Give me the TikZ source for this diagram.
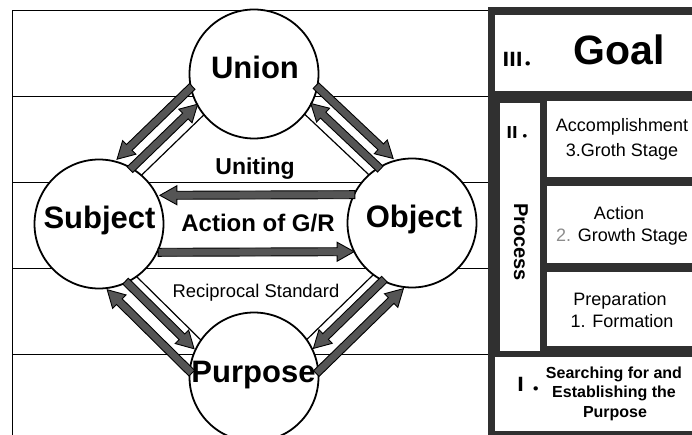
\documentclass[tikz,border=0pt]{standalone}
\usepackage{fontspec}
\setmainfont{Liberation Sans}
\newfontfamily\cjkfont[RawFeature=+fwid]{Noto Sans CJK JP}
\usetikzlibrary{calc}
\pgfdeclarelayer{back}
\pgfdeclarelayer{bg}
\pgfsetlayers{back,bg,main}
\definecolor{framedark}{HTML}{303030}
\definecolor{arrowgray}{HTML}{555555}
\definecolor{numgray}{HTML}{8C8C8C}
% offset segment parallel to A--B: #1 A, #2 B, #3 offset, #4 angle, #5 gap at A, #6 gap at B
\newcommand\offseg[6]{%
  \path ($(#1)!#3!#4:(#2)$) coordinate (pa);
  \path ($(pa)+(#2)-(#1)$) coordinate (pb);
  \path ($(pa)!#5!(pb)$) coordinate (qa) ($(pb)!#6!(pa)$) coordinate (qb);}
% fat outlined arrow from #1 to #2
\newcommand\fatarrow[2]{%
  \path ($(#2)!17pt!(#1)$) coordinate (hb);
  \filldraw[fatarr] ($(#1)!4pt!90:(#2)$) -- ($(hb)!4pt!90:(#2)$) -- ($(hb)!9.5pt!90:(#2)$) -- (#2)
    -- ($(hb)!9.5pt!-90:(#2)$) -- ($(hb)!4pt!-90:(#2)$) -- ($(#1)!4pt!-90:(#2)$) -- cycle;}
\tikzset{
  fatarr/.style={fill=arrowgray, draw=black, line width=0.9pt, line join=miter},
  thinln/.style={draw=black, line width=1.2pt},
  gridln/.style={draw=black, line width=1pt},
  circ/.style={circle, draw=black, fill=white, line width=1.8pt, minimum size=129pt, inner sep=0pt},
  bigtxt/.style={font=\fontsize{31}{31}\selectfont\bfseries, anchor=base, inner sep=0pt},
  midtxt/.style={font=\fontsize{23}{23}\selectfont\bfseries, anchor=base, inner sep=0pt},
  regtxt/.style={font=\fontsize{18}{18}\selectfont, anchor=base, inner sep=0pt},
  smbold/.style={font=\fontsize{16}{16}\selectfont\bfseries, anchor=base, inner sep=0pt},
  romtxt/.style={font=\fontsize{19}{19}\selectfont\cjkfont\bfseries, anchor=base west, inner sep=0pt},
  whitebox/.style={fill=white, draw=none}
}
\begin{document}
\begin{tikzpicture}[x=1pt,y=1pt]
\useasboundingbox (0,-435) rectangle (692,0);
\begin{pgfonlayer}{back}
  \fill[white] (0,-435) rectangle (692,0);
\end{pgfonlayer}
% circles
\node[circ] (U) at (254,-74) {};
\node[circ] (S) at (99,-224) {};
\node[circ] (O) at (412,-223) {};
\node[circ] (P) at (254,-377) {};
\begin{pgfonlayer}{bg}
  % grid of the left area
  \draw[gridln] (12,-435) -- (12,-11) -- (490,-11);
  \foreach \yy in {97,183,268,354} \draw[gridln] (12,-\yy) -- (490,-\yy);
  % thin inner lines
  \offseg{U}{S}{5.5pt}{-90}{0pt}{0pt} \draw[thinln] (qa) -- (qb);
  \offseg{U}{O}{5.5pt}{90}{0pt}{0pt} \draw[thinln] (qa) -- (qb);
  \offseg{S}{P}{11pt}{-90}{0pt}{0pt} \draw[thinln] (qa) -- (qb);
  \offseg{O}{P}{10pt}{90}{0pt}{0pt} \draw[thinln] (qa) -- (qb);
\end{pgfonlayer}
% circle labels
\node[bigtxt] (tU) at (255,-79) {Union};
\node[bigtxt] (tS) at (99.5,-229) {Subject};
\node[bigtxt] (tO) at (414,-228) {Object};
\node[bigtxt] (tP) at (253.5,-382) {Purpose};
% center labels
\node[midtxt] (lUn) at (255,-175) {Uniting};
\node[midtxt, font=\fontsize{24}{24}\selectfont\bfseries] (lAc) at (258,-232) {Action of G/R};
\node[regtxt, font=\fontsize{18.4}{18.4}\selectfont] (lRe) at (256,-297) {Reciprocal Standard};
% horizontal arrows
\offseg{S}{O}{28.5pt}{90}{61pt}{57pt} \fatarrow{qb}{qa}
\offseg{S}{O}{28.5pt}{-90}{59pt}{58pt} \fatarrow{qa}{qb}
% top-left
\offseg{U}{S}{17.5pt}{-90}{61.5pt}{60pt} \fatarrow{qb}{qa}
\offseg{U}{S}{34pt}{-90}{53pt}{58pt} \fatarrow{qa}{qb}
% top-right
\offseg{U}{O}{17.5pt}{90}{61.5pt}{60pt} \fatarrow{qb}{qa}
\offseg{U}{O}{34pt}{90}{53pt}{58pt} \fatarrow{qa}{qb}
% bottom-left
\offseg{S}{P}{22pt}{-90}{59pt}{62.5pt} \fatarrow{qa}{qb}
\offseg{S}{P}{41pt}{-90}{52pt}{47pt} \fatarrow{qb}{qa}
% bottom-right
\offseg{O}{P}{21pt}{90}{59pt}{62.5pt} \fatarrow{qa}{qb}
\offseg{O}{P}{41pt}{90}{52pt}{47pt} \fatarrow{qb}{qa}
% right panel
\fill[framedark] (488,-7) rectangle (700,-440);
\fill[whitebox] (495,-15) rectangle (700,-91);
\fill[whitebox] (500,-103) rectangle (540,-351);
\fill[whitebox] (547,-101) rectangle (700,-177);
\fill[whitebox] (547,-186) rectangle (700,-263);
\fill[whitebox] (547,-272) rectangle (700,-346);
\fill[whitebox] (495,-357) rectangle (700,-431);
\node[romtxt] (r3) at (503,-67) {Ⅲ.};
\node[font=\fontsize{41}{41}\selectfont\bfseries, anchor=base, inner sep=0pt] (goal) at (619,-65) {Goal};
\node[romtxt, font=\fontsize{16}{16}\selectfont\cjkfont\bfseries] (r2) at (504,-139) {Ⅱ.};
\node[font=\fontsize{20}{20}\selectfont\bfseries, rotate=-90, inner sep=0pt] (proc) at (521,-242) {Process};
\node[regtxt] (a1) at (622,-132) {Accomplishment};
\node[regtxt] (a2) at (622,-157) {3.Groth Stage};
\node[regtxt] (b1) at (619,-220) {Action};
\node[regtxt] (b2) at (622,-242) {\textcolor{numgray}{2.} Growth Stage};
\node[regtxt] (c1) at (620,-305) {Preparation};
\node[regtxt] (c2) at (622,-327) {1. Formation};
\node[romtxt] (r1) at (511,-391) {Ⅰ.};
\node[smbold] (d1) at (614,-378) {Searching for and};
\node[smbold] (d2) at (614,-397) {Establishing the};
\node[smbold] (d3) at (615,-417) {Purpose};
\end{tikzpicture}
\end{document}
